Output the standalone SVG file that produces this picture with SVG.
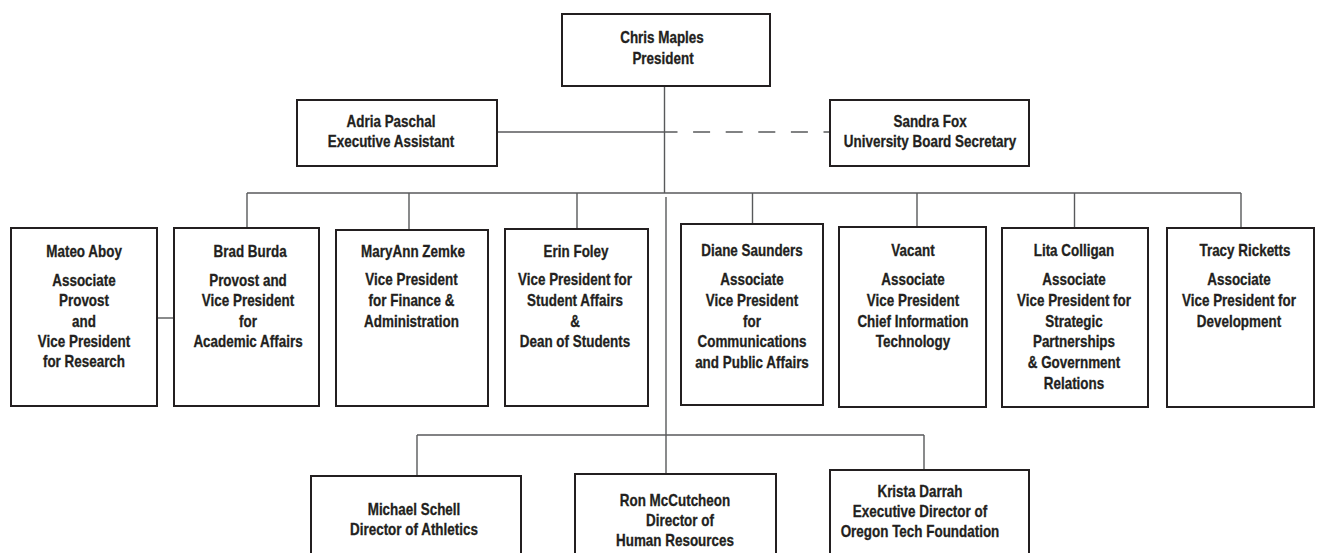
<svg xmlns="http://www.w3.org/2000/svg" width="1320" height="553" viewBox="0 0 1320 553">
<style>
.box{fill:#fff;stroke:#231f20;stroke-width:2}
.ln{fill:none;stroke:#58595b;stroke-width:1.4}
.dash{fill:none;stroke:#58595b;stroke-width:1.4;stroke-dasharray:17 15.6;stroke-dashoffset:4}
text{font-family:"Liberation Sans",Arial,sans-serif;font-weight:bold;font-size:16px;fill:#231f20;stroke:#231f20;stroke-width:0.3;text-anchor:middle;transform-box:fill-box;transform-origin:50% 50%;transform:scaleX(0.84)}
</style>
<rect width="1320" height="553" fill="#fff"/>
<g id="connectors">
<line class="ln" x1="664.5" y1="86" x2="664.5" y2="193"/>
<line class="ln" x1="497" y1="132" x2="664.5" y2="132"/>
<line class="dash" x1="664.5" y1="132" x2="830" y2="132"/>
<line class="ln" x1="247" y1="193" x2="1241" y2="193"/>
<line class="ln" x1="247" y1="193" x2="247" y2="228"/>
<line class="ln" x1="409" y1="193" x2="409" y2="230"/>
<line class="ln" x1="577" y1="193" x2="577" y2="229"/>
<line class="ln" x1="752.5" y1="193" x2="752.5" y2="229"/>
<line class="ln" x1="917" y1="193" x2="917" y2="227"/>
<line class="ln" x1="1074.5" y1="193" x2="1074.5" y2="228"/>
<line class="ln" x1="1241" y1="193" x2="1241" y2="228"/>
<line class="ln" x1="157" y1="318" x2="174" y2="318"/>
<line class="ln" x1="666" y1="197" x2="666" y2="474"/>
<line class="ln" x1="417" y1="435" x2="924" y2="435"/>
<line class="ln" x1="417" y1="435" x2="417" y2="476"/>
<line class="ln" x1="924" y1="435" x2="924" y2="470"/>
</g>
<g id="president">
<rect class="box" x="562" y="14" width="208" height="72"/>
<text x="662" y="43">Chris Maples</text>
<text x="663" y="64">President</text>
</g>
<g id="adria">
<rect class="box" x="297" y="100" width="200" height="66"/>
<text x="391" y="127">Adria Paschal</text>
<text x="391" y="147">Executive Assistant</text>
</g>
<g id="sandra">
<rect class="box" x="830" y="100" width="199" height="66"/>
<text x="930" y="127">Sandra Fox</text>
<text x="930" y="147">University Board Secretary</text>
</g>
<g id="mateo">
<rect class="box" x="11" y="228" width="146" height="178"/>
<text x="84" y="257">Mateo Aboy</text>
<text x="84" y="286">Associate</text>
<text x="84" y="306">Provost</text>
<text x="84" y="327">and</text>
<text x="84" y="347">Vice President</text>
<text x="84" y="367">for Research</text>
</g>
<g id="brad">
<rect class="box" x="174" y="228" width="145" height="178"/>
<text x="250" y="257">Brad Burda</text>
<text x="248" y="286">Provost and</text>
<text x="248" y="306">Vice President</text>
<text x="248" y="327">for</text>
<text x="248" y="347">Academic Affairs</text>
</g>
<g id="maryann">
<rect class="box" x="336" y="230" width="152" height="176"/>
<text x="413" y="257">MaryAnn Zemke</text>
<text x="411.5" y="285">Vice President</text>
<text x="411.5" y="306">for Finance &amp;</text>
<text x="411.5" y="327">Administration</text>
</g>
<g id="erin">
<rect class="box" x="505" y="229" width="143" height="177"/>
<text x="576" y="257">Erin Foley</text>
<text x="575" y="285">Vice President for</text>
<text x="575" y="306">Student Affairs</text>
<text x="575" y="327">&amp;</text>
<text x="575" y="347">Dean of Students</text>
</g>
<g id="diane">
<rect class="box" x="681" y="224" width="142" height="181"/>
<text x="752" y="256">Diane Saunders</text>
<text x="752" y="285">Associate</text>
<text x="752" y="306">Vice President</text>
<text x="752" y="327">for</text>
<text x="752" y="347">Communications</text>
<text x="752" y="368">and Public Affairs</text>
</g>
<g id="vacant">
<rect class="box" x="839" y="227" width="147" height="180"/>
<text x="913" y="256">Vacant</text>
<text x="913" y="285">Associate</text>
<text x="913" y="306">Vice President</text>
<text x="913" y="327">Chief Information</text>
<text x="913" y="347">Technology</text>
</g>
<g id="lita">
<rect class="box" x="1002" y="228" width="146" height="179"/>
<text x="1074" y="256">Lita Colligan</text>
<text x="1074" y="285">Associate</text>
<text x="1074" y="306">Vice President for</text>
<text x="1074" y="327">Strategic</text>
<text x="1074" y="347">Partnerships</text>
<text x="1074" y="368">&amp; Government</text>
<text x="1074" y="389">Relations</text>
</g>
<g id="tracy">
<rect class="box" x="1167" y="228" width="147" height="179"/>
<text x="1245" y="256">Tracy Ricketts</text>
<text x="1239" y="285">Associate</text>
<text x="1239" y="306">Vice President for</text>
<text x="1239" y="327">Development</text>
</g>
<g id="michael">
<rect class="box" x="311" y="476" width="210" height="90"/>
<text x="414" y="515">Michael Schell</text>
<text x="414" y="535">Director of Athletics</text>
</g>
<g id="ron">
<rect class="box" x="575" y="474" width="201" height="92"/>
<text x="675" y="506">Ron McCutcheon</text>
<text x="680" y="526">Director of</text>
<text x="675" y="546">Human Resources</text>
</g>
<g id="krista">
<rect class="box" x="830" y="470" width="199" height="96"/>
<text x="920" y="497">Krista Darrah</text>
<text x="920" y="517">Executive Director of</text>
<text x="920" y="537">Oregon Tech Foundation</text>
</g>
</svg>
